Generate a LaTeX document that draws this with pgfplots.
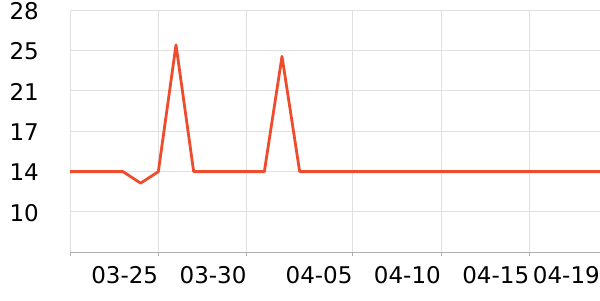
\documentclass[border=0pt]{standalone}
\usepackage{pgfplots}
\pgfplotsset{compat=1.18}
\usepackage{fontspec}
\setmainfont{DejaVu Sans}
\definecolor{lineC}{RGB}{238,76,44}
\definecolor{gridC}{RGB}{224,224,224}
\definecolor{axisC}{RGB}{176,176,176}
\begin{document}
\begin{tikzpicture}[x=1bp,y=1bp]
\path[use as bounding box] (0,0) rectangle (600,300);
\begin{axis}[
  at={(70bp,47.7bp)}, anchor=south west,
  scale only axis, width=530bp, height=242bp,
  xmin=0, xmax=30, ymin=7, ymax=28,
  xtick={0,5,10,16,21,26,30},
  xticklabels={,03-25,03-30,04-05,04-10,04-15,04-19},
  ytick={10.5,14,17.5,21,24.5,28},
  yticklabels={10,14,17,21,25,28},
  xmajorgrids, ymajorgrids,
  major grid style={gridC, line width=1bp},
  axis lines*=left,
  x axis line style={axisC, line width=1bp},
  y axis line style={draw=none},
  tick align=outside,
  major tick length=4bp,
  xtick style={axisC, line width=1bp},
  ytick style={draw=none},
  xticklabel style={anchor=base east, inner sep=0pt, yshift=-27bp, font=\fontsize{23bp}{26bp}\selectfont},
  yticklabel style={anchor=east, inner sep=0pt, xshift=-27bp, yshift=-0.7bp, font=\fontsize{23bp}{26bp}\selectfont},
  clip=false,
]
\addplot[lineC, line width=2.8bp, line join=round, mark=none] coordinates {
(0,14) (1,14) (2,14) (3,14) (4,13) (5,14) (6,25) (7,14) (8,14) (9,14)
(10,14) (11,14) (12,24) (13,14) (14,14) (15,14) (16,14) (17,14) (18,14) (19,14)
(20,14) (21,14) (22,14) (23,14) (24,14) (25,14) (26,14) (27,14) (28,14) (29,14) (30,14)
};
\end{axis}
\end{tikzpicture}
\end{document}
